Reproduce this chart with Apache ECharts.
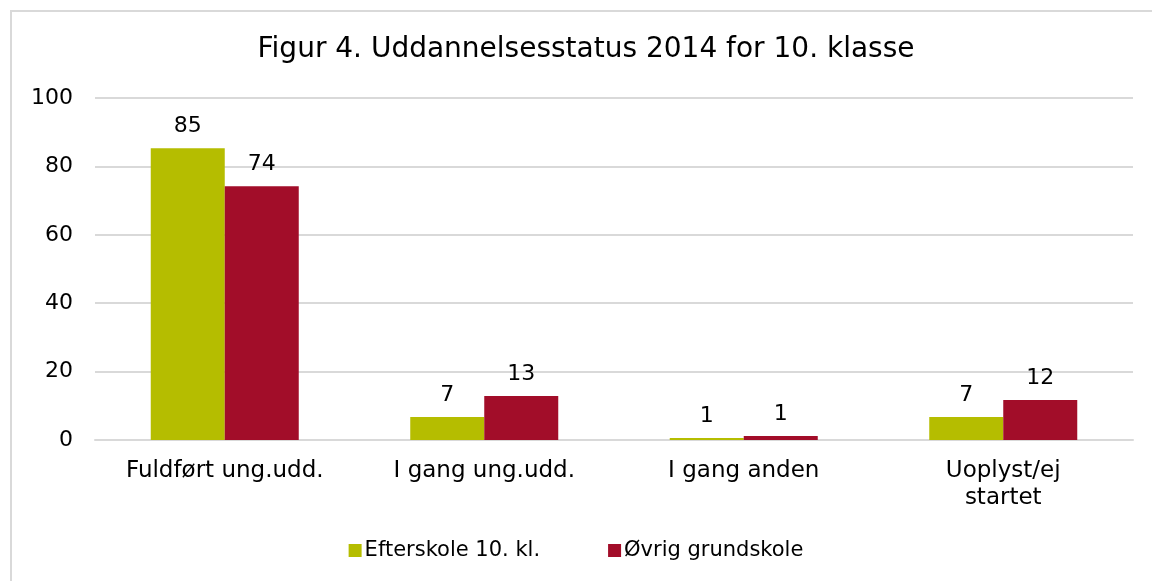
<!DOCTYPE html>
<html>
<head>
<meta charset="utf-8">
<script src="https://cdn.jsdelivr.net/npm/echarts@6/dist/echarts.min.js"></script>
<style>
  html, body { margin: 0; padding: 0; background: #fff; }
  #frame { position: absolute; left: 10px; top: 10px; width: 1160px; height: 600px; border: 2px solid #d9d9d9; box-sizing: border-box; }
  #chart { position: absolute; left: 0; top: 0; width: 1152px; height: 581px; }
</style>
</head>
<body>
<div id="frame"></div>
<div id="chart"></div>
<script>
var categories = ['Fuldført ung.udd.', 'I gang ung.udd.', 'I gang anden', 'Uoplyst/ej\nstartet']
var efterskole = [85.3, 6.7, 0.6, 6.7]
var ovrig = [74.2, 12.9, 1.2, 11.7]
var seriesNames = ['Efterskole 10. kl.', 'Øvrig grundskole']

var font = 'DejaVu Sans'
var chart = echarts.init(document.getElementById('chart'))

function barLabel(p) {
  return Math.round(p.value)
}

chart.setOption({
  animation: false,
  title: {
    text: 'Figur 4. Uddannelsesstatus 2014 for 10. klasse',
    left: 581,
    textAlign: 'center',
    top: 31,
    textStyle: { fontFamily: font, fontSize: 28, fontWeight: 'normal', color: '#000' }
  },
  legend: {
    bottom: 15,
    left: 'center',
    itemWidth: 13,
    itemHeight: 13,
    itemGap: 68,
    icon: 'rect',
    textStyle: { fontFamily: font, fontSize: 21, color: '#000', padding: [0, 0, 0, -2] },
    data: seriesNames
  },
  grid: { left: 95, right: 19, top: 98, bottom: 141 },
  xAxis: {
    type: 'category',
    data: categories,
    axisLine: { lineStyle: { color: '#d9d9d9', width: 2 } },
    axisTick: { show: false },
    axisLabel: { fontFamily: font, fontSize: 23, color: '#000', margin: 18, lineHeight: 27 }
  },
  yAxis: {
    type: 'value',
    min: 0,
    max: 100,
    interval: 20,
    axisLine: { show: false },
    axisTick: { show: false },
    splitLine: { lineStyle: { color: '#d9d9d9', width: 2 } },
    axisLabel: { fontFamily: font, fontSize: 22, color: '#000', margin: 22 }
  },
  series: [
    {
      name: seriesNames[0],
      type: 'bar',
      data: efterskole,
      barWidth: 74,
      barGap: '0%',
      itemStyle: { color: '#b5bd00' },
      label: { show: true, position: 'top', distance: 11, formatter: barLabel, fontFamily: font, fontSize: 22, color: '#000' }
    },
    {
      name: seriesNames[1],
      type: 'bar',
      data: ovrig,
      barWidth: 74,
      barGap: '0%',
      itemStyle: { color: '#a20d29' },
      label: { show: true, position: 'top', distance: 11, formatter: barLabel, fontFamily: font, fontSize: 22, color: '#000' }
    }
  ]
})
</script>
</body>
</html>
